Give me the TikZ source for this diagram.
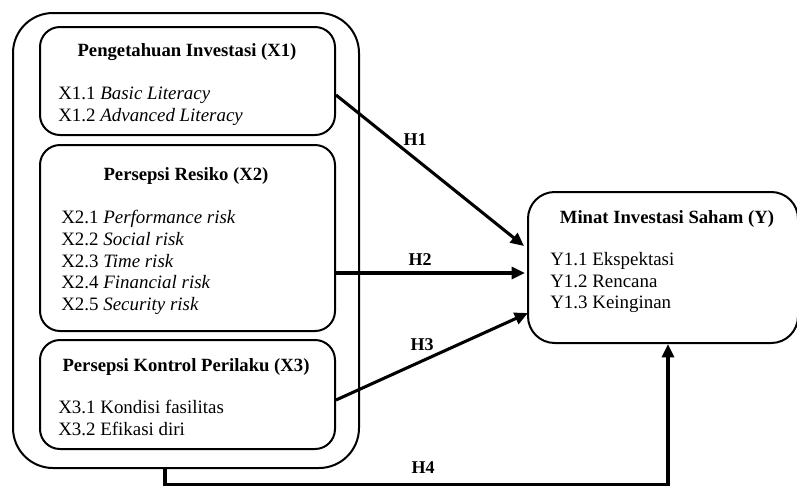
\documentclass[tikz,border=0pt]{standalone}
\usepackage{fontspec}
\setmainfont{Liberation Serif}
\usetikzlibrary{arrows.meta,calc,fit}
\begin{document}
\begin{tikzpicture}[x=0.75pt,y=-0.75pt,
 box/.style={draw,line width=1.5pt,inner sep=0pt,rounded corners=15pt},
 ttl/.style={font=\fontsize{14}{16}\selectfont\bfseries,anchor=base,inner sep=0pt},
 itm/.style={font=\fontsize{14.2}{16}\selectfont,anchor=base west,inner sep=0pt},
 arr/.style={line width=2.3pt,-{Triangle[length=10pt,width=9pt]}},
 lab/.style={font=\fontsize{13.5}{16}\selectfont\bfseries,inner sep=0pt}]
\useasboundingbox (0,0) rectangle (797,487);
% boxes
\node[box,rounded corners=30pt,fit={(13,13) (359,468)}] (outer) {};
\node[box,fit={(40,27) (335,135)}] (x1) {};
\node[box,fit={(40,145) (335,331)}] (x2) {};
\node[box,fit={(40,340) (335,449)}] (x3) {};
\node[box,rounded corners=20pt,fit={(528,192) (798,343)}] (y) {};
% X1 texts
\node[ttl] (x1t) at (187,56) {Pengetahuan Investasi (X1)};
\node[itm] (x11) at (58,99) {X1.1 \textit{Basic Literacy}};
\node[itm] (x12) at (58,121) {X1.2 \textit{Advanced Literacy}};
% X2 texts
\node[ttl] (x2t) at (186,180) {Persepsi Resiko (X2)};
\node[itm] (x21) at (61,223) {X2.1 \textit{Performance risk}};
\node[itm] (x22) at (61,245) {X2.2 \textit{Social risk}};
\node[itm] (x23) at (61,267) {X2.3 \textit{Time risk}};
\node[itm] (x24) at (61,288) {X2.4 \textit{Financial risk}};
\node[itm] (x25) at (61,310) {X2.5 \textit{Security risk}};
% X3 texts
\node[ttl] (x3t) at (186,371) {Persepsi Kontrol Perilaku (X3)};
\node[itm] (x31) at (58,413) {X3.1 Kondisi fasilitas};
\node[itm] (x32) at (58,435) {X3.2 Efikasi diri};
% Y texts
\node[ttl] (yt) at (667,223) {Minat Investasi Saham (Y)};
\node[itm] (y1) at (550,265) {Y1.1 Ekspektasi};
\node[itm] (y2) at (550,287) {Y1.2 Rencana};
\node[itm] (y3) at (550,308) {Y1.3 Keinginan};
% connectors
\coordinate (h1e) at (524,246);
\coordinate (h2e) at (525,273);
\coordinate (h3e) at (528,313);
\coordinate (h4c1) at (165,484.5);
\coordinate (h4c2) at (668,484.5);
\draw[arr] (x1.east |- 0,95) -- (h1e);
\draw[arr] (x2.east |- 0,273) -- (h2e);
\draw[arr] (x3.east |- 0,400) -- (h3e);
\draw[arr] (outer.south -| 165,0) -- (h4c1) -- (h4c2) -- (y.south -| h4c2);
% labels
\node[lab] (l1) at (415,140) {H1};
\node[lab] (l2) at (420,260) {H2};
\node[lab] (l3) at (422,345) {H3};
\node[lab] (l4) at (423,468) {H4};
\end{tikzpicture}
\end{document}
